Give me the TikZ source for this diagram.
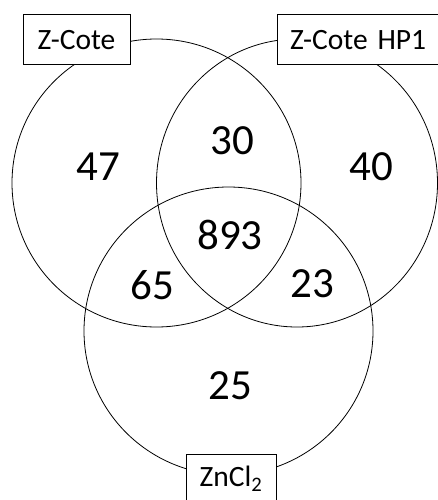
\documentclass[tikz,border=0pt]{standalone}
\usepackage{fontspec}
\setmainfont{Carlito}
\begin{document}
\begin{tikzpicture}[x=1pt,y=-1pt,
  setcircle/.style={draw=black,line width=0.8pt},
  labelbox/.style={draw=black,fill=white,line width=1pt,inner sep=0pt,minimum height=50pt,font=\fontsize{29.5}{34}\selectfont},
  count/.style={inner sep=0pt,font=\fontsize{43}{50}\selectfont}]
\useasboundingbox (0,0) rectangle (438,500);
\clip (0,0) rectangle (438,500);
\draw[setcircle] (156.5,183) ellipse [x radius=144.5,y radius=144];
\draw[setcircle] (297,183) ellipse [x radius=140.5,y radius=144];
\draw[setcircle] (228.5,331) ellipse [x radius=144.5,y radius=144];
\node[labelbox,minimum width=107pt] (zc) at (76.5,40) {Z-Cote};
\node[labelbox,minimum width=163pt,text width=163pt,align=left] (hp) at (358.5,40) {\hspace{13pt}Z-Cote HP1};
\node[labelbox,minimum width=90pt] (zn) at (231,479) {ZnCl\textsubscript{2}};
\node[count] (n47) at (98,167) {47};
\node[count] (n30) at (232,141) {30};
\node[count] (n40) at (371,167) {40};
\node[count] (n893) at (230,235) {893};
\node[count] (n65) at (152,285) {65};
\node[count] (n23) at (312,284) {23};
\node[count] (n25) at (230,386) {25};
\end{tikzpicture}
\end{document}
